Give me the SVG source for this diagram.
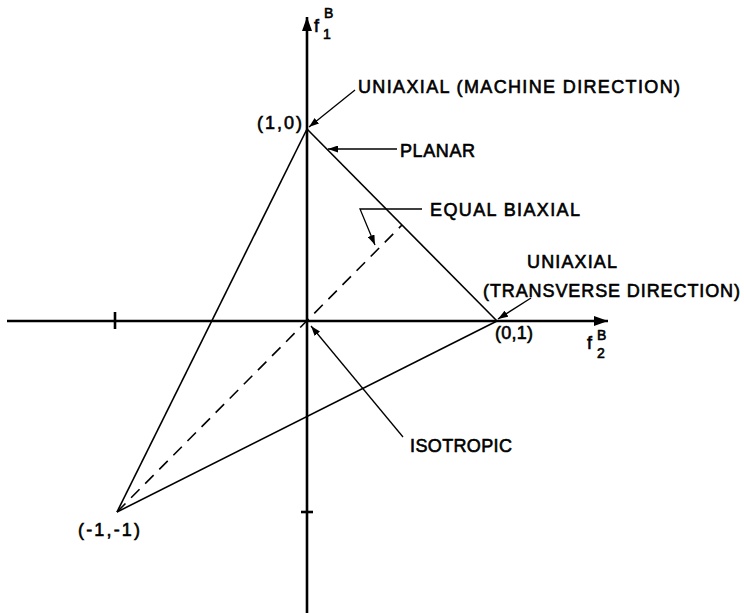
<svg xmlns="http://www.w3.org/2000/svg" width="744" height="613" viewBox="0 0 744 613">
<style>
text{font-family:"Liberation Sans","Arial",sans-serif;font-size:18px;fill:#000;stroke:#000;stroke-width:0.6}
.sm{font-size:14px}
.ax{stroke:#000;stroke-width:2.6;fill:none}
.ln{stroke:#000;stroke-width:1.6;fill:none}
.ds{stroke:#000;stroke-width:1.6;fill:none;stroke-dasharray:12 8}
.ld{stroke:#000;stroke-width:1.3;fill:none;marker-end:url(#arr)}
</style>
<defs>
<marker id="arr" markerUnits="userSpaceOnUse" markerWidth="11" markerHeight="7" refX="10" refY="3.5" orient="auto">
<path d="M0,0 L10,3.5 L0,7 z" fill="#000"/>
</marker>
<marker id="axarr" markerUnits="userSpaceOnUse" markerWidth="15" markerHeight="10" refX="14" refY="5" orient="auto">
<path d="M0,0 L14,5 L0,10 z" fill="#000"/>
</marker>
</defs>
<rect width="744" height="613" fill="#fff"/>
<g id="axes">
<line class="ax" x1="7" y1="321" x2="608" y2="321" marker-end="url(#axarr)"/>
<line class="ax" x1="307" y1="613" x2="307" y2="17" marker-end="url(#axarr)"/>
<line class="ax" x1="115" y1="312" x2="115" y2="329" stroke-width="2"/>
<line class="ax" x1="301" y1="512" x2="313" y2="512" stroke-width="2"/>
</g>
<g id="f1-label"><text x="314" y="32">f</text><text class="sm" x="324" y="18">B</text><text class="sm" x="323" y="39">1</text></g>
<g id="f2-label"><text x="587" y="349">f</text><text class="sm" x="597" y="340">B</text><text class="sm" x="597" y="358">2</text></g>
<g id="triangle">
<line class="ln" x1="307" y1="129" x2="117" y2="512"/>
<line class="ln" x1="307" y1="129" x2="497" y2="321"/>
<line class="ln" x1="117" y1="512" x2="497" y2="321"/>
<line class="ds" x1="117" y1="512" x2="402" y2="225"/>
</g>
<g id="p10"><text x="257" y="129" textLength="45" lengthAdjust="spacing">(1,0)</text></g>
<g id="p01"><text x="495" y="339" textLength="38" lengthAdjust="spacing">(0,1)</text></g>
<g id="pm1"><text x="78" y="536" textLength="62" lengthAdjust="spacing">(-1,-1)</text></g>
<g id="uniaxial-machine"><text x="358" y="93" textLength="322" lengthAdjust="spacing">UNIAXIAL (MACHINE DIRECTION)</text></g>
<g id="planar"><text x="400" y="157" textLength="75" lengthAdjust="spacing">PLANAR</text></g>
<g id="equal-biaxial"><text x="430" y="216" textLength="150" lengthAdjust="spacing">EQUAL BIAXIAL</text></g>
<g id="uniaxial-transverse"><text x="527" y="268" textLength="90" lengthAdjust="spacing">UNIAXIAL</text><text x="483" y="297" textLength="257" lengthAdjust="spacing">(TRANSVERSE DIRECTION)</text></g>
<g id="isotropic"><text x="410" y="452" textLength="102" lengthAdjust="spacing">ISOTROPIC</text></g>
<g id="connectors">
<line class="ld" x1="355" y1="90" x2="309" y2="127"/>
<line class="ld" x1="397" y1="149" x2="328" y2="149"/>
<polyline class="ld" points="422,209 360,209 375,245"/>
<line class="ld" x1="531" y1="298" x2="498" y2="319"/>
<line class="ld" x1="403" y1="437" x2="311" y2="326"/>
</g>
</svg>
